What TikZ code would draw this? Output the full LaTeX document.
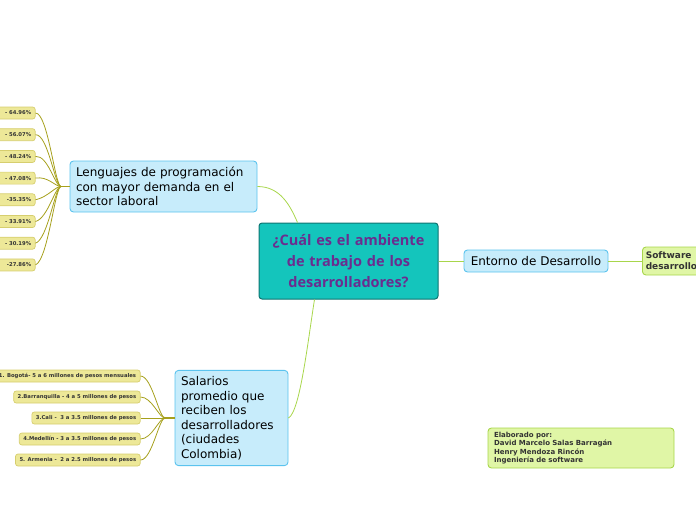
\documentclass[tikz,border=0pt]{standalone}
\usepackage{fontspec}
\setmainfont{DejaVu Sans}
\newfontfamily\titlefont{Open Sans}
\usepackage{xcolor}
\usetikzlibrary{positioning, calc}

\definecolor{tealmain}{HTML}{14C5BC}
\definecolor{tealdark}{HTML}{0E7471}
\definecolor{titlepurple}{HTML}{6B2D8F}
\definecolor{skyfill}{HTML}{C7ECFB}
\definecolor{skyline}{HTML}{5BC3EE}
\definecolor{limefill}{HTML}{E0F6A6}
\definecolor{limeline}{HTML}{A8D64B}
\definecolor{leaffill}{HTML}{EDE898}
\definecolor{leafline}{HTML}{D6CE6E}
\definecolor{olive}{HTML}{A6A01C}
\definecolor{textgray}{HTML}{333333}

\begin{document}
\begin{tikzpicture}[x=1pt, y=-1pt, font=\fontsize{12}{14.5}\selectfont]
\tikzstyle{central} = [rectangle, draw=tealdark, fill=tealmain, text=titlepurple, text width=170pt, align=center, minimum width=179pt, minimum height=76pt, rounded corners=3pt, line width=1pt, font=\titlefont\bfseries\fontsize{14.5}{21}\selectfont]
\tikzstyle{topic} = [rectangle, draw=skyline, fill=skyfill, text=black, align=left, inner sep=6pt, rounded corners=3.5pt, line width=0.9pt]
\tikzstyle{note} = [rectangle, draw=limeline, fill=limefill, text=textgray, align=left, rounded corners=3.5pt, line width=0.9pt, font=\bfseries\fontsize{7}{8.5}\selectfont]
\tikzstyle{leaf} = [rectangle, draw=leafline, fill=leaffill, text=textgray, inner xsep=4pt, inner ysep=0pt, minimum height=12pt, rounded corners=2.5pt, line width=0.7pt, font=\bfseries\fontsize{5.3}{6}\selectfont]
\tikzstyle{pct} = [leaf, text width=62pt, align=right, anchor=east]
\tikzstyle{line} = [draw, limeline, line width=0.8pt]
\tikzstyle{twig} = [draw, olive, line width=0.8pt]

\useasboundingbox (0,0) rectangle (696,520);
\clip (0,0) rectangle (696,520);

\node (central) [central] at (348.5,261) {¿Cuál es el ambiente\\de trabajo de los\\desarrolladores?};
\node (lang) [topic, text width=175pt, minimum height=51pt] at (163.5,186.5) {Lenguajes de programación\\con mayor demanda en el\\sector laboral};
\node (salary) [topic, text width=101pt, minimum height=94pt] at (231.5,418) {Salarios\\promedio que\\reciben los\\desarrolladores\\(ciudades\\Colombia)};
\node (env) [topic, inner ysep=2pt, minimum width=144pt, minimum height=22pt] at (536,261) {Entorno de Desarrollo};
\node (soft) [note, anchor=west, text width=70pt, minimum height=28pt, font=\bfseries\fontsize{9}{11}\selectfont] at (642,261) {Software\\desarrollo};
\node (author) [note, text width=174pt, minimum width=186pt, minimum height=40pt] at (581,448) {Elaborado por:\\David Marcelo Salas Barragán\\Henry Mendoza Rincón\\Ingeniería de software};

% porcentajes
\node (p1) [pct] at (35.5,113) {- 64.96\%};
\node (p2) [pct, below=9pt of p1] {- 56.07\%};
\node (p3) [pct, below=9pt of p2] {- 48.24\%};
\node (p4) [pct, below=9pt of p3] {- 47.08\%};
\node (p5) [pct, below=9pt of p4] {-35.35\%};
\node (p6) [pct, below=9pt of p5] {- 33.91\%};
\node (p7) [pct, below=9pt of p6] {- 30.19\%};
\node (p8) [pct, below=9pt of p7] {-27.86\%};

% ciudades
\node (c1) [leaf, anchor=east] at (140.5,376) {1. Bogotá- 5 a 6 millones de pesos mensuales};
\node (c2) [leaf, anchor=east] at (140.5,397) {2.Barranquilla - 4 a 5 millones de pesos};
\node (c3) [leaf, anchor=east] at (140.5,418) {3.Cali -\ \ 3 a 3.5 millones de pesos};
\node (c4) [leaf, anchor=east] at (140.5,439) {4.Medellín - 3 a 3.5 millones de pesos};
\node (c5) [leaf, anchor=east] at (140.5,460) {5. Armenia -\ \ 2 a 2.5 millones de pesos};

\coordinate (jlang) at (61,186.5);
\coordinate (jsal) at (165,418);

\draw [line] (lang.east) .. controls (280,186.5) and (290,205) .. ([xshift=39pt]central.north west);
\draw [line] (salary.east) .. controls (300,412) and (308,340) .. ([xshift=56pt]central.south west);
\draw [line] (central.east) -- (env.west);
\draw [line] (env.east) -- (soft.west);

\draw [twig, line width=1.3pt] (lang.west) -- (jlang);
\draw [twig] (jlang) .. controls (55,186.5) and (48,113) .. (p1.east);
\draw [twig] (jlang) .. controls (55,186.5) and (48,134) .. (p2.east);
\draw [twig] (jlang) .. controls (55,186.5) and (48,155) .. (p3.east);
\draw [twig] (jlang) .. controls (55,186.5) and (48,176) .. (p4.east);
\draw [twig] (jlang) .. controls (55,186.5) and (48,197) .. (p5.east);
\draw [twig] (jlang) .. controls (55,186.5) and (48,218) .. (p6.east);
\draw [twig] (jlang) .. controls (55,186.5) and (48,239) .. (p7.east);
\draw [twig] (jlang) .. controls (55,186.5) and (48,260) .. (p8.east);

\draw [twig, line width=1.3pt] (salary.west) -- (jsal);
\draw [twig] (jsal) .. controls (159,418) and (152,376) .. (c1.east);
\draw [twig] (jsal) .. controls (159,418) and (152,397) .. (c2.east);
\draw [twig] (jsal) -- (c3.east);
\draw [twig] (jsal) .. controls (159,418) and (152,439) .. (c4.east);
\draw [twig] (jsal) .. controls (159,418) and (152,460) .. (c5.east);
\end{tikzpicture}
\end{document}
